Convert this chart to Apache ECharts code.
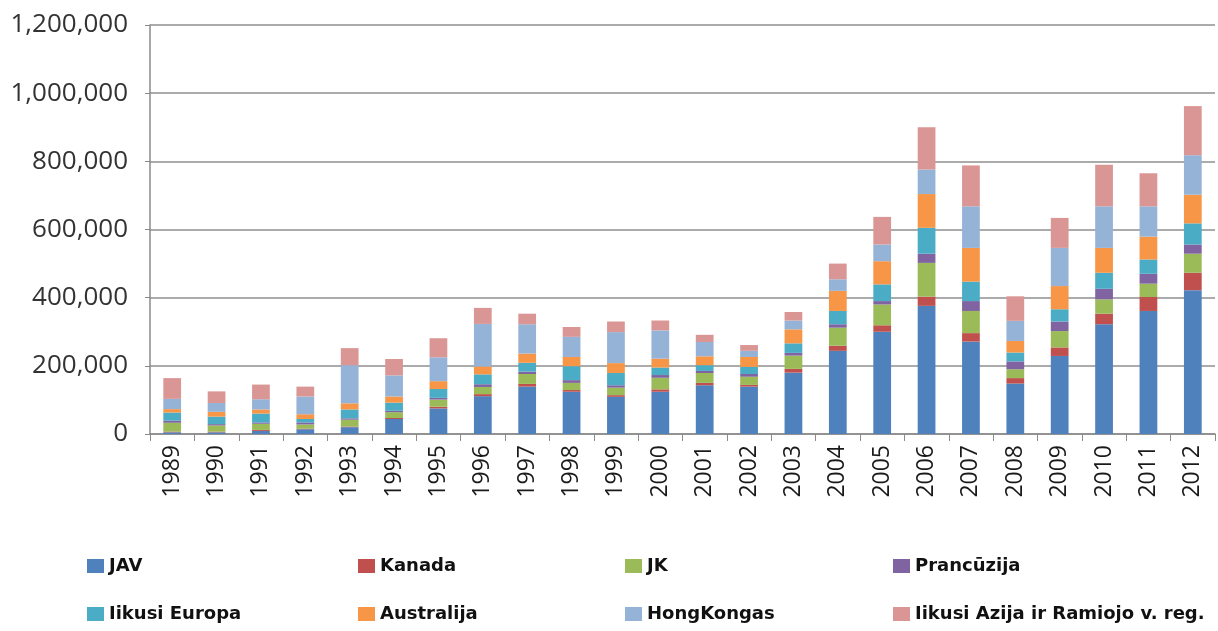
<!DOCTYPE html>
<html>
<head>
<meta charset="utf-8">
<script src="https://cdn.jsdelivr.net/npm/echarts@6/dist/echarts.min.js"></script>
<style>
  html, body { margin: 0; padding: 0; background: #ffffff; }
  #chart { width: 1218px; height: 631px; }
</style>
</head>
<body>
<div id="chart"></div>
<script>
// Years on the category axis
const years = ['1989','1990','1991','1992','1993','1994','1995','1996','1997','1998','1999','2000',
               '2001','2002','2003','2004','2005','2006','2007','2008','2009','2010','2011','2012'];

// Stacked segments per origin, in persons
const jav        = [5000,5000,9000,14000,20000,44000,75000,111000,139000,124000,109000,124000,143000,139000,180000,244000,300000,376000,271000,148000,229000,322000,361000,422000];
const kanada     = [2000,2000,3000,2000,2000,3000,5000,6000,8000,5000,5000,7000,7000,5000,11000,15000,19000,27000,25000,16000,25000,31000,41000,51000];
const jk         = [26000,18000,18000,12000,20000,17000,21000,21000,29000,21000,22000,34000,29000,24000,39000,53000,61000,99000,65000,26000,48000,42000,39000,56000];
const prancuzija = [6000,4000,4000,6000,4000,4000,5000,8000,7000,8000,7000,8000,6000,8000,8000,10000,10000,27000,29000,23000,28000,31000,29000,27000];
const europa     = [24000,22000,26000,10000,26000,24000,26000,29000,26000,41000,36000,22000,17000,21000,28000,39000,49000,76000,57000,26000,36000,47000,42000,62000];
const australija = [10000,14000,12000,14000,18000,18000,23000,23000,27000,27000,29000,26000,26000,29000,41000,59000,68000,99000,99000,34000,68000,73000,67000,84000];
const hongkongas = [30000,26000,30000,52000,112000,62000,70000,125000,86000,59000,91000,83000,42000,18000,26000,34000,49000,72000,122000,59000,112000,122000,89000,116000];
const azija      = [61000,34000,43000,29000,50000,48000,56000,47000,31000,29000,31000,29000,21000,17000,25000,46000,81000,124000,120000,72000,88000,122000,97000,144000];

// Value-axis tick labels
const yTicks = ['0','200,000','400,000','600,000','800,000','1,000,000','1,200,000'];

const seriesDefs = [
  { name: 'JAV',                             data: jav,        color: '#4F81BD' },
  { name: 'Kanada',                          data: kanada,     color: '#C0504D' },
  { name: 'JK',                              data: jk,         color: '#9BBB59' },
  { name: 'Prancūzija',                      data: prancuzija, color: '#8064A2' },
  { name: 'Iikusi Europa',                   data: europa,     color: '#4BACC6' },
  { name: 'Australija',                      data: australija, color: '#F79646' },
  { name: 'HongKongas',                      data: hongkongas, color: '#95B3D7' },
  { name: 'Iikusi Azija ir Ramiojo v. reg.', data: azija,      color: '#DA9694' }
];

const chart = echarts.init(document.getElementById('chart'), null, { renderer: 'canvas' });

// Legend laid out as four columns of two entries each
const legendCols = [87, 358, 625, 893];
const legends = legendCols.map((left, i) => ({
  orient: 'vertical',
  left: left,
  top: 556,
  padding: 0,
  height: 75,
  itemWidth: 17,
  itemHeight: 14,
  itemGap: 28,
  icon: 'rect',
  selectedMode: false,
  data: [seriesDefs[i].name, seriesDefs[i + 4].name],
  textStyle: {
    fontFamily: 'DejaVu Sans',
    fontWeight: 'bold',
    fontSize: 18,
    lineHeight: 20,
    color: '#111111'
  }
}));

chart.setOption({
  animation: false,
  backgroundColor: '#ffffff',
  legend: legends,
  grid: { left: 150, right: 3, top: 25, bottom: 197, containLabel: false },
  xAxis: {
    type: 'category',
    data: years,
    axisLine: { lineStyle: { color: '#8a8a8a', width: 1.5 } },
    axisTick: { show: true, length: 7, lineStyle: { color: '#8a8a8a', width: 1 } },
    axisLabel: {
      rotate: 90,
      margin: 11,
      fontFamily: 'Open Sans',
      fontSize: 23,
      color: '#1a1a1a'
    }
  },
  yAxis: {
    type: 'value',
    min: 0,
    max: 1200000,
    interval: 200000,
    axisLine: { show: true, lineStyle: { color: '#8a8a8a', width: 1.5 } },
    axisTick: { show: true, length: 5, lineStyle: { color: '#8a8a8a' } },
    splitLine: { show: true, lineStyle: { color: '#8f8f8f', width: 1.5 } },
    axisLabel: {
      margin: 22,
      fontFamily: 'Open Sans',
      fontSize: 26,
      color: '#333333',
      formatter: (v) => yTicks[Math.round(v / 200000)]
    }
  },
  series: seriesDefs.map(s => ({
    name: s.name,
    type: 'bar',
    stack: 'total',
    barWidth: '40%',
    data: s.data,
    itemStyle: { color: s.color },
    emphasis: { disabled: true }
  }))
});
</script>
</body>
</html>
